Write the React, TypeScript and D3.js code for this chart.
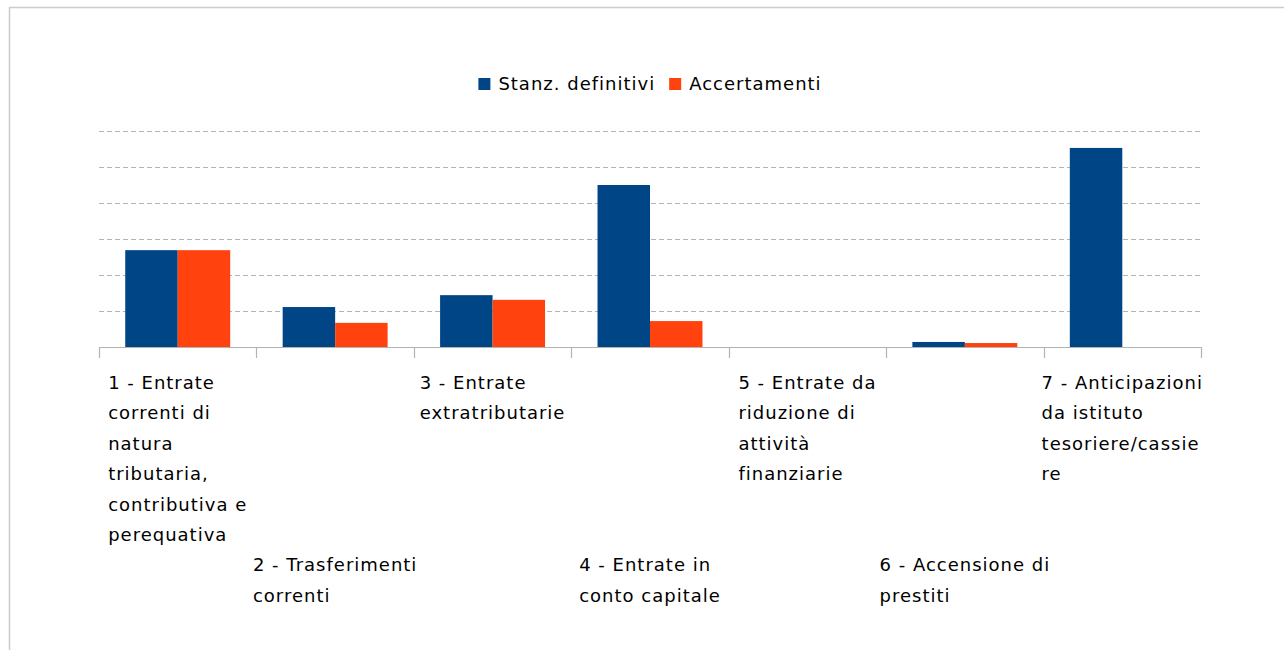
import React, { useEffect, useRef } from "react";
import * as d3 from "d3";

const categoryLines: string[][] = [
  ["1 - Entrate", "correnti di", "natura", "tributaria,", "contributiva e", "perequativa"],
  ["2 - Trasferimenti", "correnti"],
  ["3 - Entrate", "extratributarie"],
  ["4 - Entrate in", "conto capitale"],
  ["5 - Entrate da", "riduzione di", "attività", "finanziarie"],
  ["6 - Accensione di", "prestiti"],
  ["7 - Anticipazioni", "da istituto", "tesoriere/cassie", "re"],
];
const seriesNames = ["Stanz. definitivi", "Accertamenti"];
const seriesColors = ["#004586", "#ff420e"];
const stanzDefinitivi = [2.69, 1.11, 1.44, 4.5, 0, 0.14, 5.53];
const accertamenti = [2.69, 0.67, 1.31, 0.72, 0, 0.11, 0];
const yTicks = [0, 1, 2, 3, 4, 5, 6];

const W = 1284;
const H = 650;
const FONT = "'DejaVu Sans', sans-serif";

export default function App() {
  const ref = useRef<SVGSVGElement | null>(null);

  useEffect(() => {
    const svg = d3.select(ref.current);
    svg.selectAll("*").remove();

    const left = 99, right = 1201, top = 131, bottom = 347;
    const idx = categoryLines.map((_, i) => i);
    const x = d3.scaleBand<number>().domain(idx).range([left, right]).padding(0);
    const xs = d3.scaleBand<number>().domain([0, 1]).range([0, x.bandwidth()]).paddingInner(0).paddingOuter(0.5);
    const y = d3.scaleLinear().domain([0, 6]).range([bottom, top]);

    // border
    svg.append("rect")
      .attr("x", 9.5).attr("y", 7.5).attr("width", 1400).attr("height", 900)
      .attr("fill", "none").attr("stroke", "#cccccc").attr("stroke-width", 1.5);

    // gridlines
    svg.append("g").selectAll("line").data(yTicks.filter(t => t > 0)).join("line")
      .attr("x1", left).attr("x2", right)
      .attr("y1", d => Math.round(y(d)) + 0.5).attr("y2", d => Math.round(y(d)) + 0.5)
      .attr("stroke", "#b3b3b3").attr("stroke-width", 1).attr("stroke-dasharray", "5,3");

    // bars
    const series = [stanzDefinitivi, accertamenti];
    series.forEach((vals, s) => {
      svg.append("g").selectAll("rect").data(vals).join("rect")
        .attr("x", (_, i) => (x(i) as number) + (xs(s) as number))
        .attr("width", xs.bandwidth())
        .attr("y", d => y(d))
        .attr("height", d => y(0) - y(d))
        .attr("fill", seriesColors[s]);
    });

    // axis
    svg.append("line")
      .attr("x1", left).attr("x2", right)
      .attr("y1", bottom + 0.5).attr("y2", bottom + 0.5)
      .attr("stroke", "#b3b3b3").attr("stroke-width", 1.2);
    const boundaries = idx.map(i => x(i) as number).concat([right]);
    svg.append("g").selectAll("line").data(boundaries).join("line")
      .attr("x1", d => Math.round(d) + 0.5).attr("x2", d => Math.round(d) + 0.5)
      .attr("y1", bottom).attr("y2", bottom + 11)
      .attr("stroke", "#b3b3b3").attr("stroke-width", 1.2);

    // category labels
    const lineH = 30.4;
    const firstBase = 389;
    const row1Max = d3.max(categoryLines.filter((_, i) => i % 2 === 0), l => l.length) as number;
    categoryLines.forEach((lines, i) => {
      const g = svg.append("g");
      const startLine = i % 2 === 0 ? 0 : row1Max;
      const t = g.append("text")
        .attr("font-family", FONT).attr("font-size", 18)
        .style("letter-spacing", "1px").attr("fill", "#000");
      lines.forEach((ln, k) => {
        t.append("tspan").attr("x", 0).attr("y", firstBase + (startLine + k) * lineH).text(ln);
      });
      const bb = (t.node() as SVGTextElement).getBBox();
      const cx = (x(i) as number) + x.bandwidth() / 2;
      g.attr("transform", `translate(${cx - bb.width / 2},0)`);
    });

    // legend
    const lg = svg.append("g");
    let off = 0;
    seriesNames.forEach((name, s) => {
      lg.append("rect").attr("x", off).attr("y", 78).attr("width", 12).attr("height", 12).attr("fill", seriesColors[s]);
      const tx = lg.append("text").attr("x", off + 20).attr("y", 90)
        .attr("font-family", FONT).attr("font-size", 18)
        .style("letter-spacing", "1px").attr("fill", "#000").text(name);
      const w = (tx.node() as SVGTextElement).getComputedTextLength();
      off += 20 + w + 14;
    });
    const lb = (lg.node() as SVGGElement).getBBox();
    lg.attr("transform", `translate(${(left + right) / 2 - lb.width / 2},0)`);
  }, []);

  return (
    <svg
      ref={ref}
      width={W}
      height={H}
      style={{ position: "absolute", left: 0, top: 0, display: "block", background: "#fff" }}
    />
  );
}
